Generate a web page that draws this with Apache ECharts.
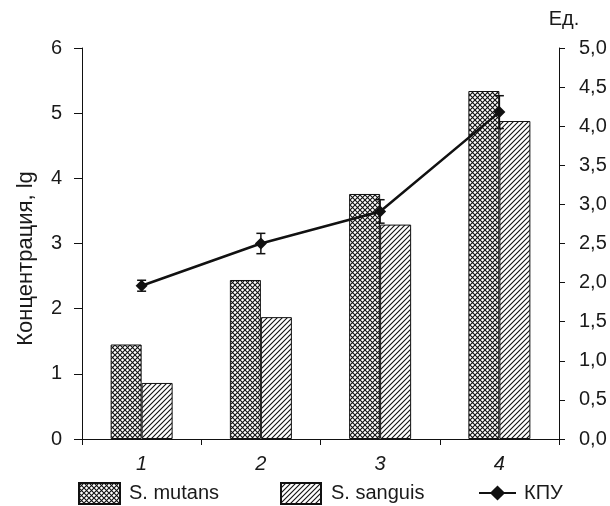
<!DOCTYPE html>
<html><head><meta charset="utf-8">
<script src="https://cdn.jsdelivr.net/npm/echarts@6/dist/echarts.min.js"></script>
<style>html,body{margin:0;padding:0;background:#fff}#c{width:610px;height:506px}</style>
</head><body><div id="c"></div>
<script>
const categories = ['1', '2', '3', '4'];
const mutans = [1.45, 2.44, 3.76, 5.34];
const sanguis = [0.86, 1.87, 3.29, 4.88];
const kpu = [1.96, 2.50, 2.91, 4.18];
const kpuErr = [0.07, 0.13, 0.15, 0.21];
const leftTicks = [0, 1, 2, 3, 4, 5, 6];
const rightTicks = [0, 0.5, 1, 1.5, 2, 2.5, 3, 3.5, 4, 4.5, 5];

function makePattern(type) {
  const s = 5;
  const c = document.createElement('canvas');
  c.width = s; c.height = s;
  const g = c.getContext('2d');
  g.fillStyle = '#fff'; g.fillRect(0, 0, s, s);
  g.strokeStyle = '#111'; g.lineWidth = 1.1;
  g.beginPath();
  if (type === 'cross') {
    g.moveTo(-1, -1); g.lineTo(s + 1, s + 1);
    g.moveTo(-1, s + 1); g.lineTo(s + 1, -1);
  } else {
    g.moveTo(-1, s + 1); g.lineTo(s + 1, -1);
    g.moveTo(-1, 1); g.lineTo(1, -1);
    g.moveTo(s - 1, s + 1); g.lineTo(s + 1, s - 1);
  }
  g.stroke();
  return c;
}

const font = 'Liberation Sans, Arial, sans-serif';
const txt = '#1a1a1a';
const fs = 20;
const chart = echarts.init(document.getElementById('c'));
const errData = categories.map((c, i) => [i, kpu[i] - kpuErr[i], kpu[i] + kpuErr[i]]);

chart.setOption({
  animation: false,
  textStyle: { fontFamily: font },
  grid: { left: 82, right: 51, top: 48, bottom: 67 },
  legend: [
    { data: [{ name: 'S. mutans', icon: 'rect' }], left: 78, top: 482, padding: 0, itemWidth: 41, itemHeight: 21,
      textStyle: { fontSize: fs, color: txt, fontFamily: font, padding: [0, 0, 0, 4] } },
    { data: [{ name: 'S. sanguis', icon: 'rect' }], left: 280, top: 482, padding: 0, itemWidth: 40, itemHeight: 21,
      textStyle: { fontSize: fs, color: txt, fontFamily: font, padding: [0, 0, 0, 5] } },
    { data: ['КПУ'], left: 478, top: 483, padding: 0, itemWidth: 37, itemHeight: 19,
      textStyle: { fontSize: fs, color: txt, fontFamily: font, padding: [0, 0, 0, 3] } }
  ],
  xAxis: {
    type: 'category', data: categories, boundaryGap: true,
    axisLine: { lineStyle: { color: '#111', width: 1 } },
    axisTick: { show: true, length: 6, inside: false, lineStyle: { color: '#111' } },
    axisLabel: { fontSize: fs, fontStyle: 'italic', color: txt, margin: 15, fontFamily: font }
  },
  yAxis: [
    { type: 'value', min: 0, max: 6, interval: 1, splitLine: { show: false },
      name: 'Концентрация, lg', nameLocation: 'middle', nameGap: 45,
      nameTextStyle: { fontSize: 22, color: txt, fontFamily: font, padding: [0, 30, 0, 0] },
      axisLine: { show: true, lineStyle: { color: '#111' } },
      axisTick: { show: true, length: 8, lineStyle: { color: '#111' } },
      axisLabel: { fontSize: fs, color: txt, margin: 20, fontFamily: font } },
    { type: 'value', min: 0, max: 5, interval: 0.5, splitLine: { show: false }, position: 'right',
      name: 'Ед.', nameLocation: 'end', nameGap: 19,
      nameTextStyle: { fontSize: fs, color: txt, fontFamily: font, padding: [0, 0, 0, 10] },
      axisLine: { show: true, lineStyle: { color: '#111' } },
      axisTick: { show: true, length: 6, lineStyle: { color: '#111' } },
      axisLabel: { fontSize: fs, color: txt, margin: 20, fontFamily: font,
        formatter: v => v.toFixed(1).replace('.', ',') } }
  ],
  series: [
    { name: 'S. mutans', type: 'bar', data: mutans, barWidth: 31, barGap: '0%',
      itemStyle: { color: { image: makePattern('cross'), repeat: 'repeat' }, borderColor: '#111', borderWidth: 1 } },
    { name: 'S. sanguis', type: 'bar', data: sanguis, barWidth: 31,
      itemStyle: { color: { image: makePattern('hatch'), repeat: 'repeat' }, borderColor: '#111', borderWidth: 1 } },
    { name: 'КПУ', type: 'line', yAxisIndex: 1, data: kpu, symbol: 'diamond', symbolSize: 12,
      lineStyle: { color: '#111', width: 2.5 }, itemStyle: { color: '#111' }, z: 5 },
    { name: 'err', type: 'custom', yAxisIndex: 1, data: errData, z: 4,
      renderItem: function (params, api) {
        const x = api.value(0);
        const lo = api.coord([x, api.value(1)]);
        const hi = api.coord([x, api.value(2)]);
        const w = 4.5;
        const st = { stroke: '#111', lineWidth: 1.5 };
        return { type: 'group', children: [
          { type: 'line', shape: { x1: lo[0], y1: lo[1], x2: hi[0], y2: hi[1] }, style: st },
          { type: 'line', shape: { x1: lo[0] - w, y1: lo[1], x2: lo[0] + w, y2: lo[1] }, style: st },
          { type: 'line', shape: { x1: hi[0] - w, y1: hi[1], x2: hi[0] + w, y2: hi[1] }, style: st }
        ] };
      } }
  ]
});
</script></body></html>
